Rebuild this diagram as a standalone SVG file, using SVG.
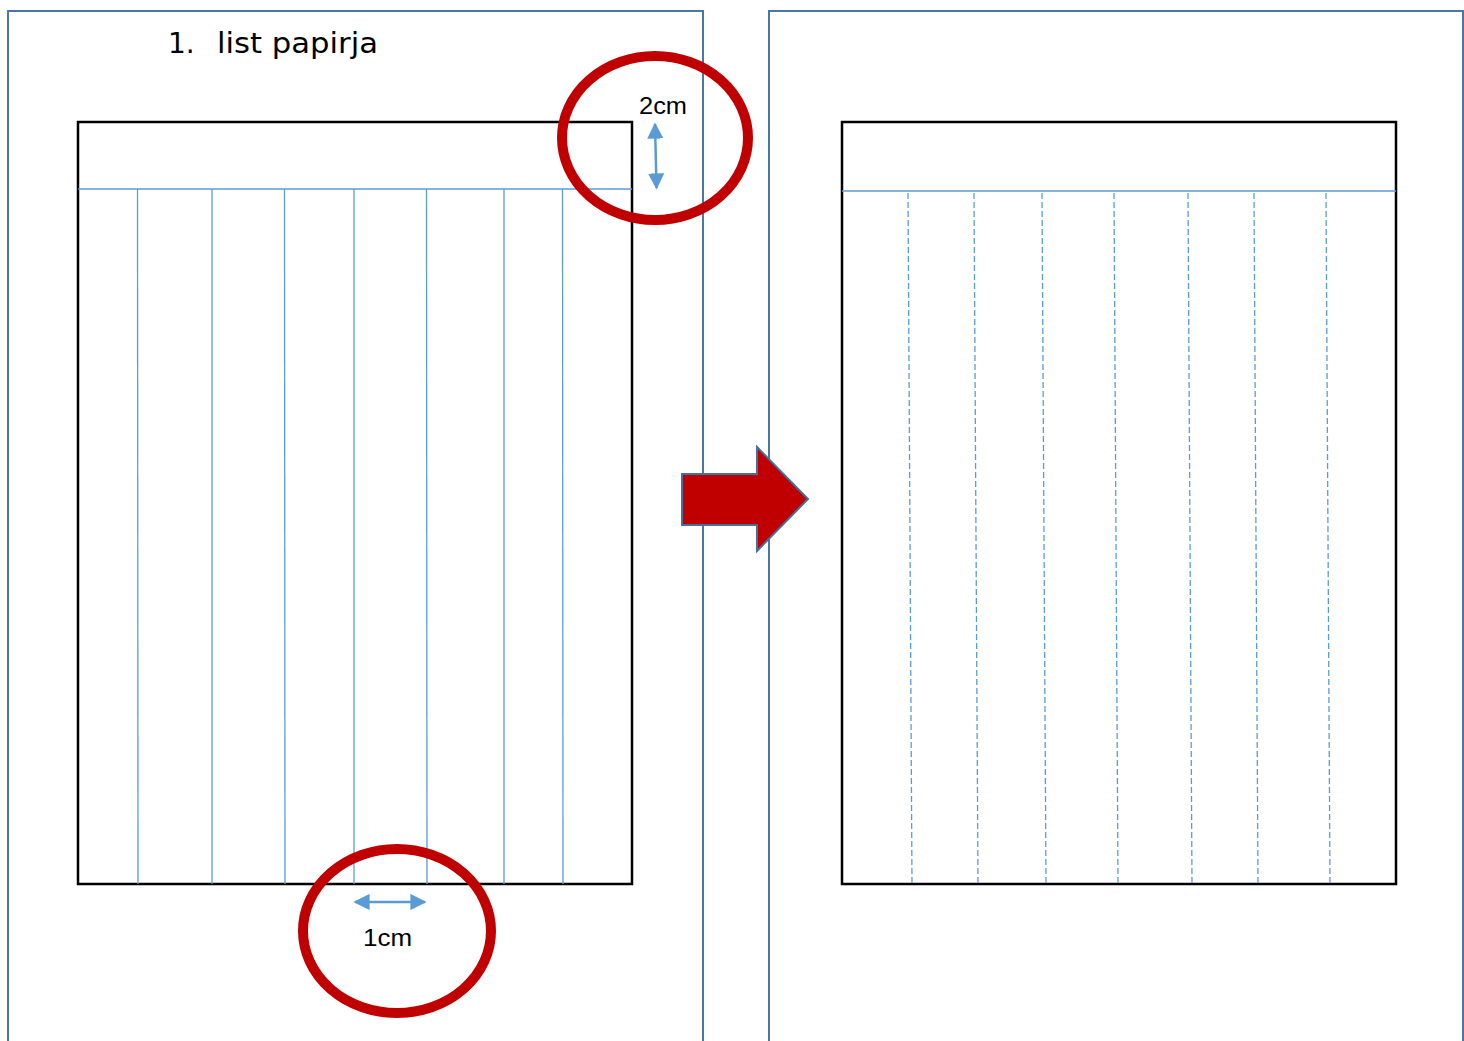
<svg xmlns="http://www.w3.org/2000/svg" width="1464" height="1041" viewBox="0 0 1464 1041">
<defs>
<style>
.page{fill:none;stroke:#4a76a8;stroke-width:2}
.sheet{fill:#fff;stroke:#000;stroke-width:2.5}
.blue{stroke:#5b9bd5;stroke-width:1.3;fill:none}
.dash{stroke:#5b9bd5;stroke-width:1.3;fill:none;stroke-dasharray:6 3}
.ring{fill:none;stroke:#c00000;stroke-width:10}
.dim{stroke:#5b9bd5;stroke-width:2.5;fill:none}
.lbl{font-family:"Liberation Sans",Arial,sans-serif;font-size:24px;fill:#000}
.title{font-family:"DejaVu Sans","Liberation Sans",sans-serif;font-size:28px;fill:#000}
</style>
<marker id="ah" viewBox="0 0 10 10" refX="9" refY="5" markerWidth="6.5" markerHeight="6.5" markerUnits="strokeWidth" orient="auto-start-reverse">
<path d="M0,0 L10,5 L0,10 z" fill="#5b9bd5"/>
</marker>
</defs>
<rect width="1464" height="1041" fill="#fff"/>
<g id="page-left">
<path class="page" d="M8,1045 V11 H703 V1045"/>
</g>
<g id="page-right">
<path class="page" d="M769,1045 V11 H1463 V1045"/>
</g>
<g id="title">
<text class="title" x="168" y="53">1.</text>
<text class="title" x="217" y="53" textLength="161" lengthAdjust="spacingAndGlyphs">list papirja</text>
</g>
<g id="sheet-left">
<rect class="sheet" x="78" y="122" width="554" height="762"/>
<line class="blue" x1="78" y1="189" x2="632" y2="189"/>
<line class="blue" x1="137.5" y1="189" x2="138" y2="884"/>
<line class="blue" x1="212" y1="189" x2="212" y2="884"/>
<line class="blue" x1="284.5" y1="189" x2="285" y2="884"/>
<line class="blue" x1="354" y1="189" x2="354" y2="884"/>
<line class="blue" x1="426.5" y1="189" x2="427" y2="884"/>
<line class="blue" x1="504" y1="189" x2="504" y2="884"/>
<line class="blue" x1="562.5" y1="189" x2="563" y2="884"/>
</g>
<g id="sheet-right">
<rect class="sheet" x="842" y="122" width="554" height="762"/>
<line class="blue" x1="842" y1="191" x2="1396" y2="191"/>
<line class="dash" x1="908" y1="193" x2="912" y2="884"/>
<line class="dash" x1="974" y1="193" x2="978" y2="884"/>
<line class="dash" x1="1042" y1="193" x2="1046" y2="884"/>
<line class="dash" x1="1114" y1="193" x2="1118" y2="884"/>
<line class="dash" x1="1188" y1="193" x2="1192" y2="884"/>
<line class="dash" x1="1254" y1="193" x2="1258" y2="884"/>
<line class="dash" x1="1326" y1="193" x2="1330" y2="884"/>
</g>
<g id="arrow-big">
<path d="M682,474 H757 V447 L808,499 L757,551 V525 H682 Z" fill="#c00000" stroke="#41719c" stroke-width="2"/>
</g>
<g id="callout-2cm">
<ellipse class="ring" cx="655" cy="138" rx="93" ry="82"/>
<text class="lbl" x="639" y="114" textLength="48" lengthAdjust="spacingAndGlyphs">2cm</text>
</g>
<g id="callout-1cm">
<ellipse class="ring" cx="397" cy="931" rx="94" ry="82"/>
<text class="lbl" x="363" y="946" textLength="49" lengthAdjust="spacingAndGlyphs">1cm</text>
</g>
<g id="connectors">
<line class="dim" x1="655" y1="124" x2="656.5" y2="188" marker-start="url(#ah)" marker-end="url(#ah)"/>
<line class="dim" x1="355" y1="902" x2="425" y2="902" marker-start="url(#ah)" marker-end="url(#ah)"/>
</g>
</svg>
